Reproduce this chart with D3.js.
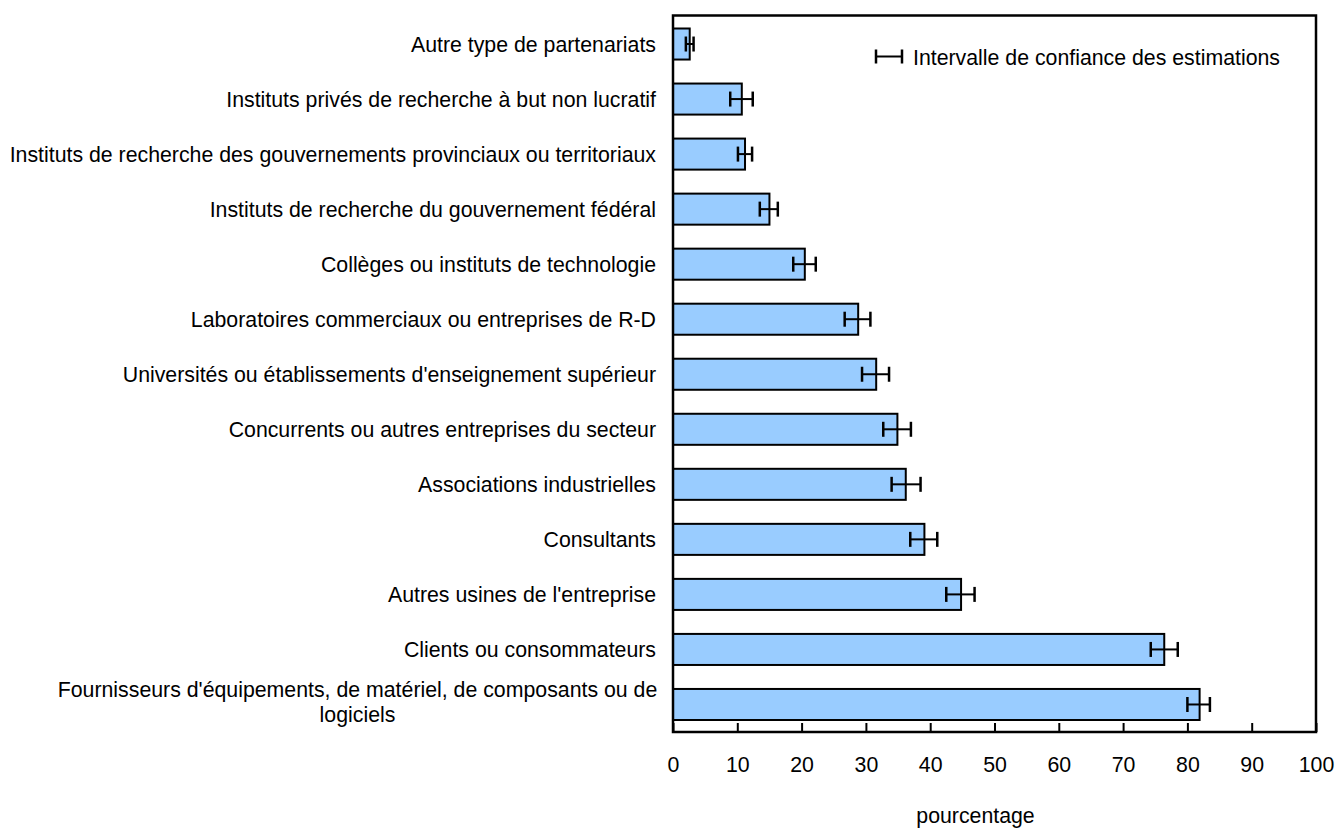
<!DOCTYPE html>
<html>
<head>
<meta charset="utf-8">
<script src="https://cdn.jsdelivr.net/npm/d3@7"></script>
<style>
  html, body { margin: 0; padding: 0; background: #ffffff; }
  svg { display: block; }
  text { font-family: "Liberation Sans", Arial, sans-serif; fill: #000; }
</style>
</head>
<body>
<svg id="chart" width="1336" height="829"></svg>
<script>
const categories = [
  "Autre type de partenariats",
  "Instituts privés de recherche à but non lucratif",
  "Instituts de recherche des gouvernements provinciaux ou territoriaux",
  "Instituts de recherche du gouvernement fédéral",
  "Collèges ou instituts de technologie",
  "Laboratoires commerciaux ou entreprises de R-D",
  "Universités ou établissements d'enseignement supérieur",
  "Concurrents ou autres entreprises du secteur",
  "Associations industrielles",
  "Consultants",
  "Autres usines de l'entreprise",
  "Clients ou consommateurs",
  "Fournisseurs d'équipements, de matériel, de composants ou de logiciels"
];
const values = [2.6, 10.7, 11.2, 15.0, 20.5, 28.8, 31.6, 34.9, 36.2, 39.1, 44.8, 76.4, 81.9];
const lower  = [2.0, 8.9, 10.1, 13.5, 18.7, 26.7, 29.4, 32.7, 34.0, 36.9, 42.5, 74.3, 80.0];
const upper  = [3.2, 12.4, 12.3, 16.3, 22.2, 30.7, 33.6, 37.0, 38.5, 41.1, 46.9, 78.5, 83.5];
const xTicks = [0, 10, 20, 30, 40, 50, 60, 70, 80, 90, 100];
const axisTitle = "pourcentage";
const legendLabel = "Intervalle de confiance des estimations";

const FS = "21.3px";
const svg = d3.select("#chart");
const plotL = 673, plotR = 1316, plotT = 15.5, plotB = 732;

const x = d3.scaleLinear().domain([0, 100]).range([plotL, plotR]);
const y = d3.scaleBand().domain(categories).range([16.5, plotB])
  .paddingInner(0.436).paddingOuter(0.218);

// bars
svg.append("g").selectAll("rect").data(categories).join("rect")
  .attr("x", x(0))
  .attr("y", d => y(d))
  .attr("width", (d, i) => x(values[i]) - x(0))
  .attr("height", y.bandwidth())
  .attr("fill", "#99ccff")
  .attr("stroke", "#000")
  .attr("stroke-width", 2);

// error bars
const capH = 15;
const eg = svg.append("g").attr("stroke", "#000").attr("stroke-width", 2);
categories.forEach((c, i) => {
  const cy = y(c) + y.bandwidth() / 2;
  eg.append("line").attr("x1", x(lower[i])).attr("x2", x(upper[i])).attr("y1", cy).attr("y2", cy);
  eg.append("line").attr("x1", x(lower[i])).attr("x2", x(lower[i])).attr("y1", cy - capH/2).attr("y2", cy + capH/2).attr("stroke-width", 2.5);
  eg.append("line").attr("x1", x(upper[i])).attr("x2", x(upper[i])).attr("y1", cy - capH/2).attr("y2", cy + capH/2).attr("stroke-width", 2.5);
});

// frame
svg.append("rect")
  .attr("x", plotL).attr("y", plotT)
  .attr("width", plotR - plotL).attr("height", plotB - plotT)
  .attr("fill", "none").attr("stroke", "#000").attr("stroke-width", 2.5);

// x axis ticks (inside, upward) and labels
const xAxis = d3.axisBottom(x).tickValues(xTicks).tickSize(-9).tickPadding(0).tickFormat(d3.format("d"));
const ax = svg.append("g").attr("transform", `translate(0,${plotB})`).call(xAxis);
ax.select(".domain").remove();
ax.selectAll(".tick line").attr("stroke", "#000").attr("stroke-width", 2);
ax.selectAll(".tick text")
  .attr("y", 40).attr("dy", 0)
  .style("font-size", FS)
  .style("font-family", "'Liberation Sans', Arial, sans-serif")
  .attr("fill", "#000");

// axis title
svg.append("text").attr("x", 975.5).attr("y", 823)
  .attr("text-anchor", "middle").style("font-size", FS).text(axisTitle);

// category labels
const lg = svg.append("g").style("font-size", FS);
categories.forEach((c, i) => {
  const cy = y(c) + y.bandwidth() / 2;
  if (i === categories.length - 1) {
    const line1 = "Fournisseurs d'équipements, de matériel, de composants ou de";
    const line2 = "logiciels";
    lg.append("text").attr("x", 357.5).attr("y", cy - 7.5).attr("text-anchor", "middle").text(line1);
    lg.append("text").attr("x", 357.5).attr("y", cy + 17.5).attr("text-anchor", "middle").text(line2);
  } else {
    lg.append("text").attr("x", 656).attr("y", cy + 7.5).attr("text-anchor", "end").text(c);
  }
});

// legend
const leg = svg.append("g").attr("stroke", "#000");
leg.append("line").attr("x1", 876).attr("x2", 902).attr("y1", 56.5).attr("y2", 56.5).attr("stroke-width", 2);
leg.append("line").attr("x1", 876).attr("x2", 876).attr("y1", 49.5).attr("y2", 63.5).attr("stroke-width", 2.5);
leg.append("line").attr("x1", 902).attr("x2", 902).attr("y1", 49.5).attr("y2", 63.5).attr("stroke-width", 2.5);
svg.append("text").attr("x", 913).attr("y", 65).style("font-size", FS).text(legendLabel);
</script>
</body>
</html>
